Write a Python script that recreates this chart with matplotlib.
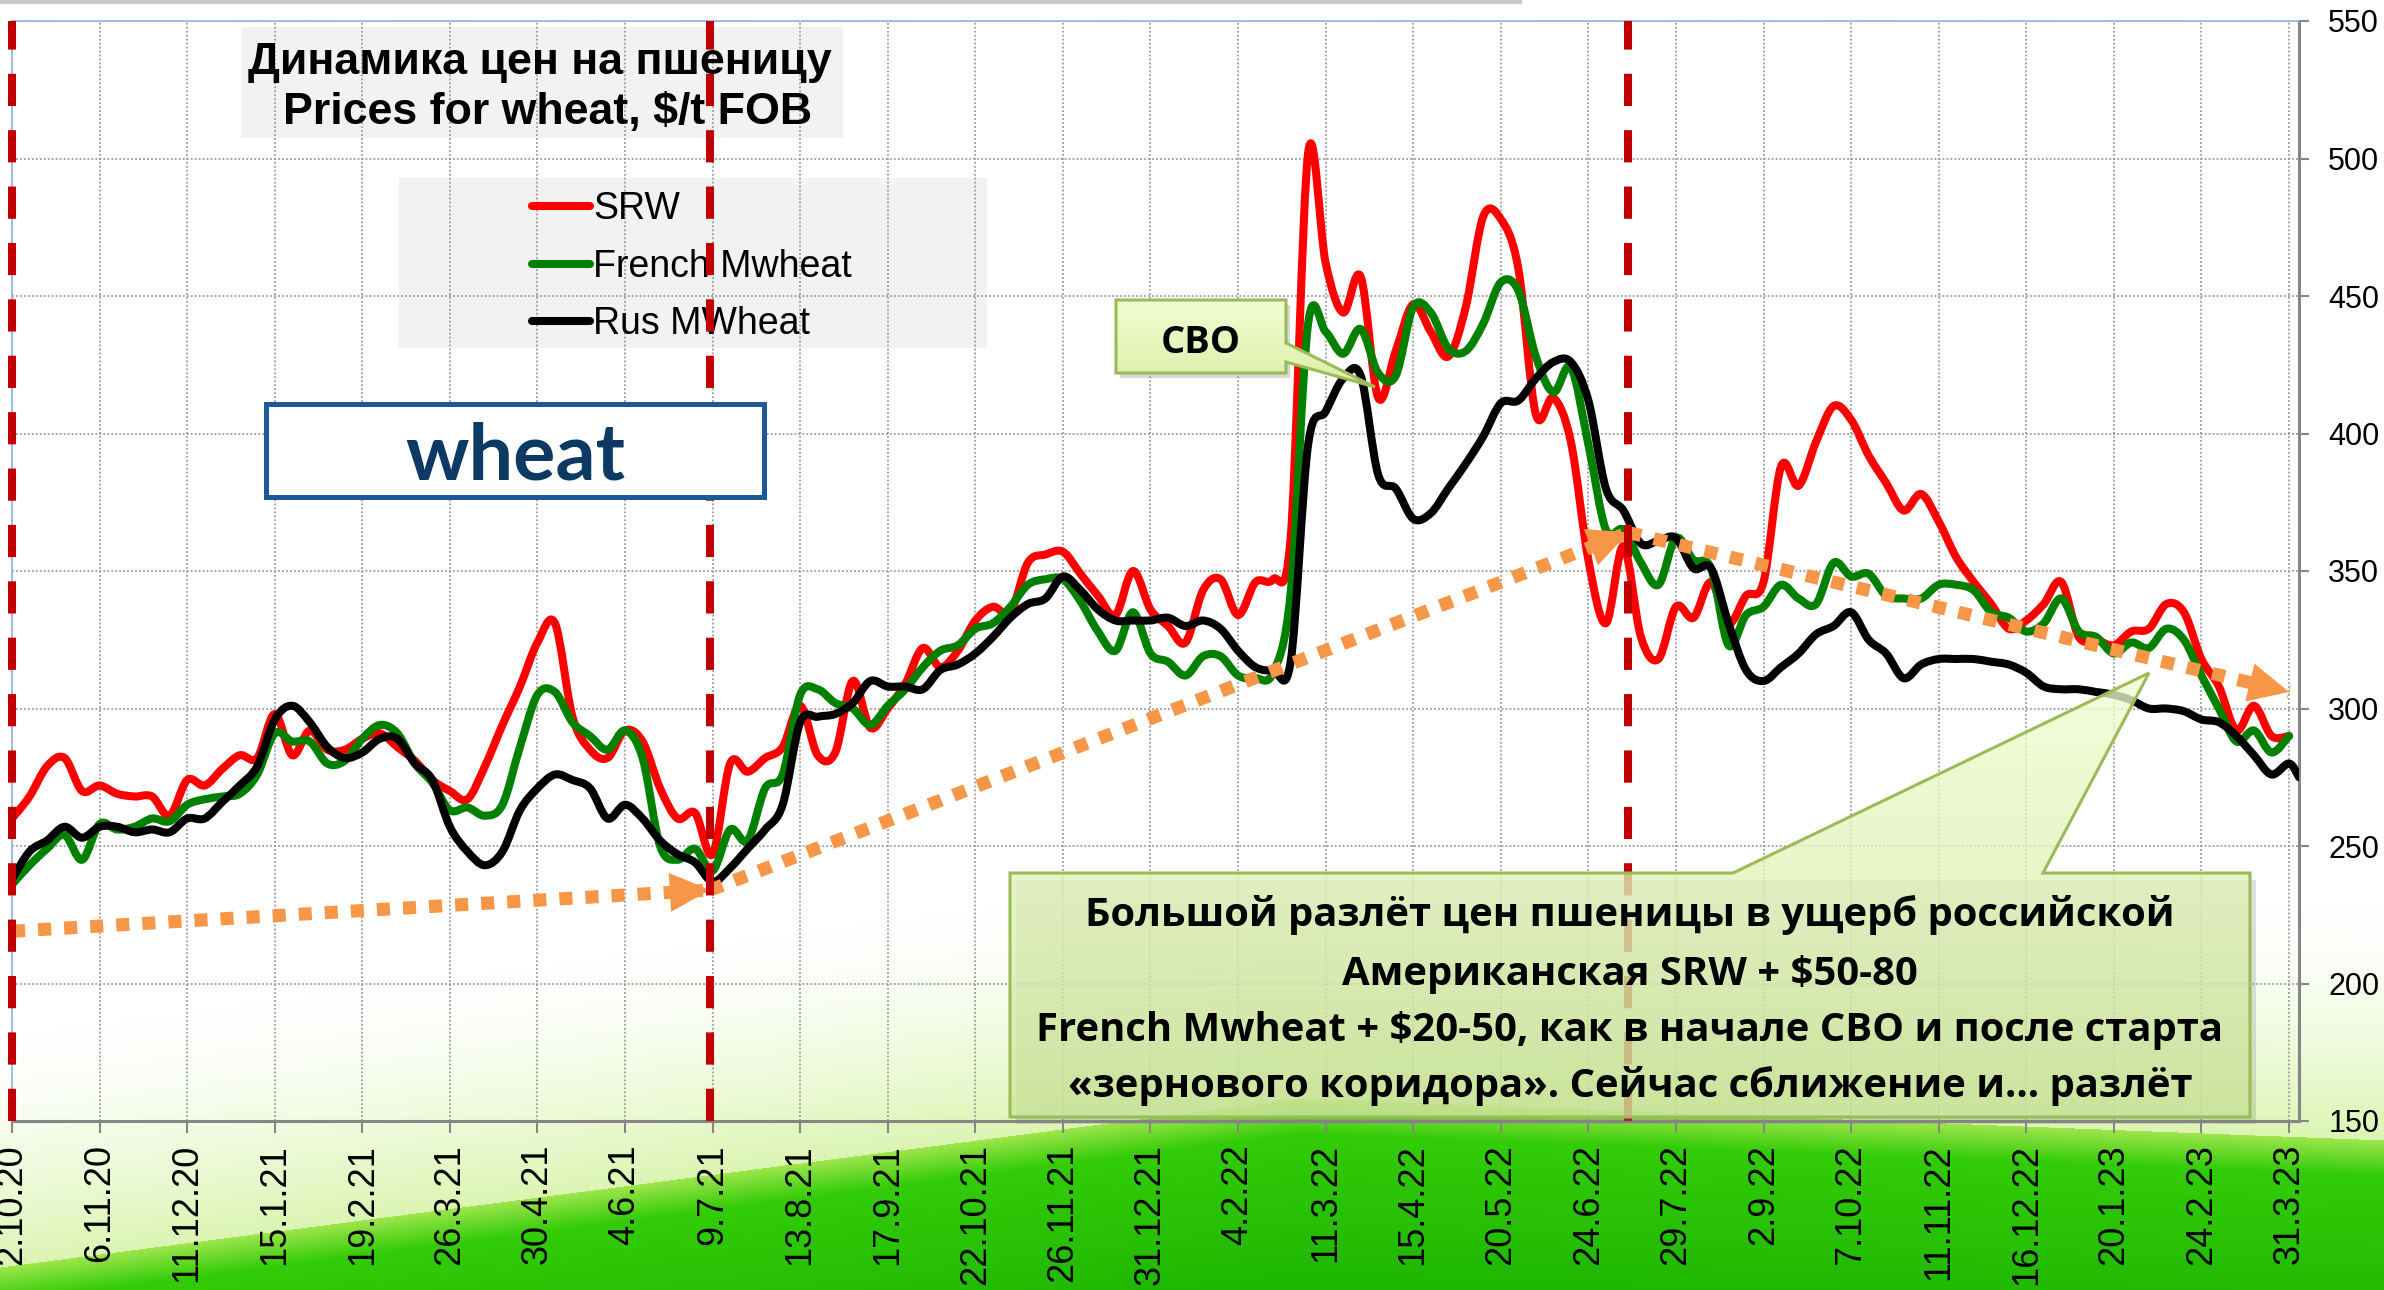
import numpy as np
import pandas as pd
import matplotlib
matplotlib.use('Agg')
import matplotlib.pyplot as plt
import matplotlib.dates as mdates
from matplotlib.transforms import Affine2D
from matplotlib.patches import Rectangle, PathPatch
from matplotlib.path import Path
from matplotlib.lines import Line2D

plt.rcParams['font.family'] = ['Liberation Sans', 'DejaVu Sans']

W, H, DPI = 2384, 1290, 100

# ---------------- data ----------------
week_dates = pd.date_range('2020-10-02', periods=131, freq='7D')

srw = [260, 268, 279, 282, 270, 272, 269, 268, 268, 261,
       274, 272, 278, 283, 282, 298, 283, 292, 285, 285,
       289, 291, 286, 281, 274, 270, 267, 279, 294, 308,
       324, 331, 297, 285, 282, 292, 288, 271, 260, 262,
       247, 280, 277, 282, 286, 301, 283, 284, 310, 293,
       300, 309, 322, 315, 321, 332, 337, 335, 353, 356,
       357, 349, 341, 334, 350, 336, 330, 324, 343, 347,
       334, 346, 347, 362, 502, 462, 444, 457, 413, 430,
       447, 437, 428, 446, 479, 478, 460, 407, 413, 397,
       354, 331, 359, 326, 318, 337, 333, 346, 331, 341,
       346, 388, 381, 397, 410, 405, 392, 382, 372, 378,
       368, 355, 346, 338, 329, 332, 338, 346, 326, 325,
       323, 328, 329, 338, 335, 318, 308, 292, 301, 290,
       290]

french = [236, 243, 249, 254, 245, 258, 256, 257, 260, 259,
          265, 267, 268, 269, 276, 291, 288, 288, 280, 281,
          289, 294, 291, 280, 273, 263, 264, 261, 265, 286,
          305, 306, 295, 290, 285, 292, 282, 250, 245, 249,
          241, 256, 252, 271, 276, 305, 307, 302, 300, 294,
          301, 307, 315, 321, 323, 329, 331, 337, 345, 347,
          347, 339, 328, 321, 335, 320, 317, 312, 319, 319,
          312, 311, 313, 342, 440, 437, 429, 438, 422, 421,
          446, 444, 431, 430, 440, 455, 452, 428, 415, 424,
          396, 365, 365, 353, 345, 362, 354, 351, 323, 334,
          337, 345, 340, 338, 353, 348, 349, 341, 340, 340,
          345, 345, 343, 335, 333, 328, 331, 340, 328, 326,
          320, 324, 322, 329, 325, 312, 300, 288, 292, 284,
          290]

rus = [238, 248, 252, 257, 253, 257, 257, 255, 256, 255,
       260, 260, 266, 272, 279, 296, 301, 295, 286, 282,
       284, 289, 289, 280, 274, 257, 248, 243, 248, 263,
       271, 276, 274, 271, 260, 265, 260, 252, 247, 244,
       237, 242, 249, 256, 265, 295, 297, 298, 302, 310,
       308, 308, 307, 314, 316, 320, 326, 333, 338, 340,
       348, 343, 336, 332, 332, 332, 333, 330, 332, 329,
       321, 315, 314, 317, 396, 408, 420, 421, 385, 380,
       369, 371, 380, 389, 399, 411, 412, 420, 426, 426,
       412, 380, 372, 360, 361, 362, 351, 351, 331, 314,
       310, 315, 320, 327, 330, 335, 325, 320, 311, 316,
       318, 318, 318, 317, 316, 313, 308, 307, 307, 306,
       305, 303, 300, 300, 299, 296, 295, 290, 283, 276,
       280, 275]
rus_dates = list(week_dates) + [pd.Timestamp('2023-04-04')]

series_names = ['SRW', 'French Mwheat', 'Rus MWheat']
series_colors = ['#ff0000', '#008000', '#000000']

tick_labels = ['2.10.20', '6.11.20', '11.12.20', '15.1.21', '19.2.21', '26.3.21',
               '30.4.21', '4.6.21', '9.7.21', '13.8.21', '17.9.21', '22.10.21',
               '26.11.21', '31.12.21', '4.2.22', '11.3.22', '15.4.22', '20.5.22',
               '24.6.22', '29.7.22', '2.9.22', '7.10.22', '11.11.22', '16.12.22',
               '20.1.23', '24.2.23', '31.3.23']
tick_dates = week_dates[::5]
y_ticks = [150, 200, 250, 300, 350, 400, 450, 500, 550]

event_dates = ['2020-10-02', '2021-07-08', '2022-07-10']
trend_x = [['2020-10-02', '2021-07-08'], ['2021-07-08', '2022-07-10'], ['2022-07-10', '2023-03-31']]
trend_y = [[219, 234], [234, 364], [364, 306]]

title_lines = ['Динамика цен на пшеницу', 'Prices for wheat, $/t FOB']
note_lines = ['Большой разлёт цен пшеницы в ущерб российской',
              'Американская SRW + $50-80',
              'French Mwheat + $20-50, как в начале СВО и после старта',
              '«зернового коридора». Сейчас сближение и… разлёт']

# ---------------- figure ----------------
fig = plt.figure(figsize=(W / DPI, H / DPI), dpi=DPI)
fig.patch.set_facecolor('white')
px = Affine2D().scale(1.0 / W, -1.0 / H).translate(0, 1) + fig.transFigure

# slide background
xs = np.arange(W, dtype=np.float32)
g = np.where(xs < 1300, 1267 - 0.13 * xs, 1098 + (xs - 1300) * (42 / 1084.0)).astype(np.float32)
Y = np.arange(H, dtype=np.float32)[:, None]
d = Y - g[None, :]
img = np.ones((H, W, 3), dtype=np.float32)
haze = np.clip((d + 230) / 230, 0, 1)[..., None] ** 1.5
pale = np.array([0.86, 0.96, 0.70], dtype=np.float32)
img = img * (1 - haze) + pale * haze
gl = np.array([0.62, 0.90, 0.30], dtype=np.float32)
gm = np.array([0.20, 0.80, 0.03], dtype=np.float32)
gd = np.array([0.10, 0.70, 0.00], dtype=np.float32)
t1 = np.clip(d / 35, 0, 1)[..., None]
t2 = np.clip((d - 35) / 180, 0, 1)[..., None]
gcol = (gl * (1 - t1) + gm * t1) * (1 - t2) + gd * t2
img = np.where((d > 0)[..., None], gcol, img)
bg = fig.add_axes([0, 0, 1, 1], zorder=-10)
bg.imshow(img, extent=(0, W, H, 0), aspect='auto', interpolation='bilinear')
bg.set_xlim(0, W)
bg.set_ylim(H, 0)
bg.axis('off')

# main axes
ax = fig.add_axes([12 / W, 1 - 1121 / H, (2299 - 12) / W, (1121 - 21) / H], zorder=0)
ax.patch.set_alpha(0)


def smooth_path(x, y):
    """Excel-style smoothed line: cubic Bezier segments through every data point."""
    x = np.asarray(x, float)
    y = np.asarray(y, float)
    n = len(x)
    verts = [(x[0], y[0])]
    codes = [Path.MOVETO]
    for i in range(n - 1):
        xa, ya = (x[i - 1], y[i - 1]) if i > 0 else (x[i], y[i])
        xb, yb = (x[i + 2], y[i + 2]) if i + 2 < n else (x[i + 1], y[i + 1])
        verts.append((x[i] + (x[i + 1] - xa) / 6.0, y[i] + (y[i + 1] - ya) / 6.0))
        verts.append((x[i + 1] - (xb - x[i]) / 6.0, y[i + 1] - (yb - y[i]) / 6.0))
        verts.append((x[i + 1], y[i + 1]))
        codes += [Path.CURVE4] * 3
    return Path(verts, codes)


wd = mdates.date2num(week_dates)
rd = mdates.date2num(rus_dates)
handles = []
for xv, yv, c, name in [(wd, srw, series_colors[0], series_names[0]),
                        (wd, french, series_colors[1], series_names[1]),
                        (rd, rus, series_colors[2], series_names[2])]:
    ax.add_patch(PathPatch(smooth_path(xv, yv), facecolor='none', edgecolor=c, lw=5.8,
                           joinstyle='round', capstyle='round', zorder=3, label=name))
    handles.append(Line2D([], [], color=c, lw=5.8, solid_capstyle='round'))

ax.set_xlim(mdates.date2num(pd.Timestamp('2020-10-02')), mdates.date2num(pd.Timestamp('2023-04-04')))
ax.set_ylim(150, 550)

orange = '#f79646'
for xx, yy in zip(trend_x, trend_y):
    xn = mdates.date2num(pd.to_datetime(xx))
    ax.plot(xn, yy, color=orange, lw=9.4, linestyle=(0, (1, 1)), dash_capstyle='butt', zorder=4)
    ax.annotate('', xy=(xn[1], yy[1]), xytext=(xn[0], yy[0]),
                arrowprops=dict(arrowstyle='-|>,head_length=2.9,head_width=1.4', mutation_scale=10,
                                color=orange, lw=0, shrinkA=0, shrinkB=0), zorder=4)

for e in event_dates:
    ax.axvline(mdates.date2num(pd.Timestamp(e)), color='#c00000', lw=5.8, linestyle=(0, (4, 3)),
               dash_capstyle='butt', zorder=5, clip_on=False)

ax.set_xticks(mdates.date2num(tick_dates))
ax.set_xticklabels(tick_labels)
ax.set_yticks(y_ticks)
ax.set_yticklabels([str(v) for v in y_ticks])
ax.yaxis.tick_right()
ax.tick_params(axis='y', direction='out', length=7, width=1.5, color='#868686', labelsize=22, pad=14,
               left=False, right=True, labelleft=False, labelright=True)
ax.tick_params(axis='x', direction='out', length=8.5, width=1.5, color='#868686', labelsize=26, pad=8,
               labelrotation=90)
ax.grid(True, color='#8c8c8c', lw=1.1, linestyle=(0, (1.2, 1.4)))
ax.set_axisbelow(True)
for s in ['left', 'top']:
    ax.spines[s].set_color('#8eb4e3')
    ax.spines[s].set_linewidth(1.2)
for s in ['right', 'bottom']:
    ax.spines[s].set_color('#868686')
    ax.spines[s].set_linewidth(2.2)

renderer = fig.canvas.get_renderer()


def fit(t, target):
    w = t.get_window_extent(renderer=renderer).width
    t.set_fontsize(t.get_fontsize() * target / w)


# title box
ax.add_patch(Rectangle((241, 27), 602, 111, transform=px, facecolor='#f2f2f2', edgecolor='none', zorder=0.3))
t1_ = ax.text(540, 74, title_lines[0], transform=px, ha='center', va='baseline', fontsize=31,
              fontweight='bold', zorder=2.5)
t2_ = ax.text(548, 124, title_lines[1], transform=px, ha='center', va='baseline', fontsize=31,
              fontweight='bold', zorder=2.5)
fit(t1_, 583)
t2_.set_fontsize(t1_.get_fontsize())

# legend box
ax.add_patch(Rectangle((399, 178), 588, 170, transform=px, facecolor='#f2f2f2', edgecolor='none', zorder=0.3))
leg = ax.legend(handles=handles, labels=series_names, loc='upper left', bbox_to_anchor=(532, 191),
                bbox_transform=px, frameon=False, borderpad=0, borderaxespad=0, handlelength=1.55,
                handletextpad=0.08, labelspacing=0.58, prop={'family': 'Liberation Sans', 'size': 27})
leg.set_zorder(2.5)

# overlay for boxes
ov = fig.add_axes([0, 0, 1, 1], zorder=10)
ov.patch.set_visible(False)


def grad_fill(verts, x0, x1, y0, y1, c_top, c_bot, alpha, edge, lw):
    path = Path(verts + [verts[0]], closed=True)
    ov.add_patch(PathPatch(path, facecolor='none', edgecolor=edge, lw=lw, zorder=3))
    grad = np.linspace(0, 1, 256)[:, None, None]
    rgb = np.array(c_top)[None, None, :] * (1 - grad) + np.array(c_bot)[None, None, :] * grad
    rgb = np.repeat(rgb, 2, axis=1)
    im = ov.imshow(rgb, extent=(x0, x1, y1, y0), aspect='auto', alpha=alpha, zorder=2,
                   interpolation='bilinear')
    im.set_clip_path(PathPatch(path, transform=ov.transData, facecolor='none', edgecolor='none'))


# shadows
ov.add_patch(Rectangle((1016, 880), 1240, 244, facecolor='#808080', alpha=0.25, edgecolor='none', zorder=1))
ov.add_patch(Rectangle((1120, 305), 170, 73, facecolor='#808080', alpha=0.3, edgecolor='none', zorder=1))

grad_fill([(1010, 873), (1733, 873), (2149, 673), (2043, 873), (2250, 873), (2250, 1117), (1010, 1117)],
          1010, 2250, 673, 1117, (0.95, 0.99, 0.82), (0.80, 0.91, 0.60), 0.78, '#9bbb59', 2.2)
grad_fill([(1116, 300), (1286, 300), (1286, 343), (1375, 387), (1286, 362), (1286, 373), (1116, 373)],
          1116, 1375, 300, 387, (0.95, 0.99, 0.82), (0.86, 0.94, 0.66), 1.0, '#9bbb59', 2.2)

# wheat box
ov.add_patch(Rectangle((266, 404), 498, 93, facecolor='white', edgecolor='#1c5a96', lw=3.6, zorder=2))
tw = ov.text(515, 480, 'wheat', ha='center', va='baseline', fontsize=56, fontweight='bold',
             family=['Lato', 'DejaVu Sans'], color='#0d3a63', zorder=4)
fit(tw, 220)

ts = ov.text(1201, 353, 'СВО', ha='center', va='baseline', fontsize=28, fontweight='bold',
             family=['Open Sans', 'DejaVu Sans'], color='black', zorder=4)
fit(ts, 80)

baselines = [926, 985, 1041.5, 1097]
nts = []
for txt, yb in zip(note_lines, baselines):
    nts.append(ov.text(1630, yb, txt, ha='center', va='baseline', fontsize=28, fontweight='bold',
                       family=['Open Sans', 'DejaVu Sans'], color='black', zorder=4))
fit(nts[2], 1184)
for t in nts:
    t.set_fontsize(nts[2].get_fontsize())

ov.plot([0, 1520], [2, 2], color='#c8c8c8', lw=3, zorder=1)

ov.set_xlim(0, W)
ov.set_ylim(H, 0)
ov.axis('off')

fig.savefig('out.png', dpi=DPI)
